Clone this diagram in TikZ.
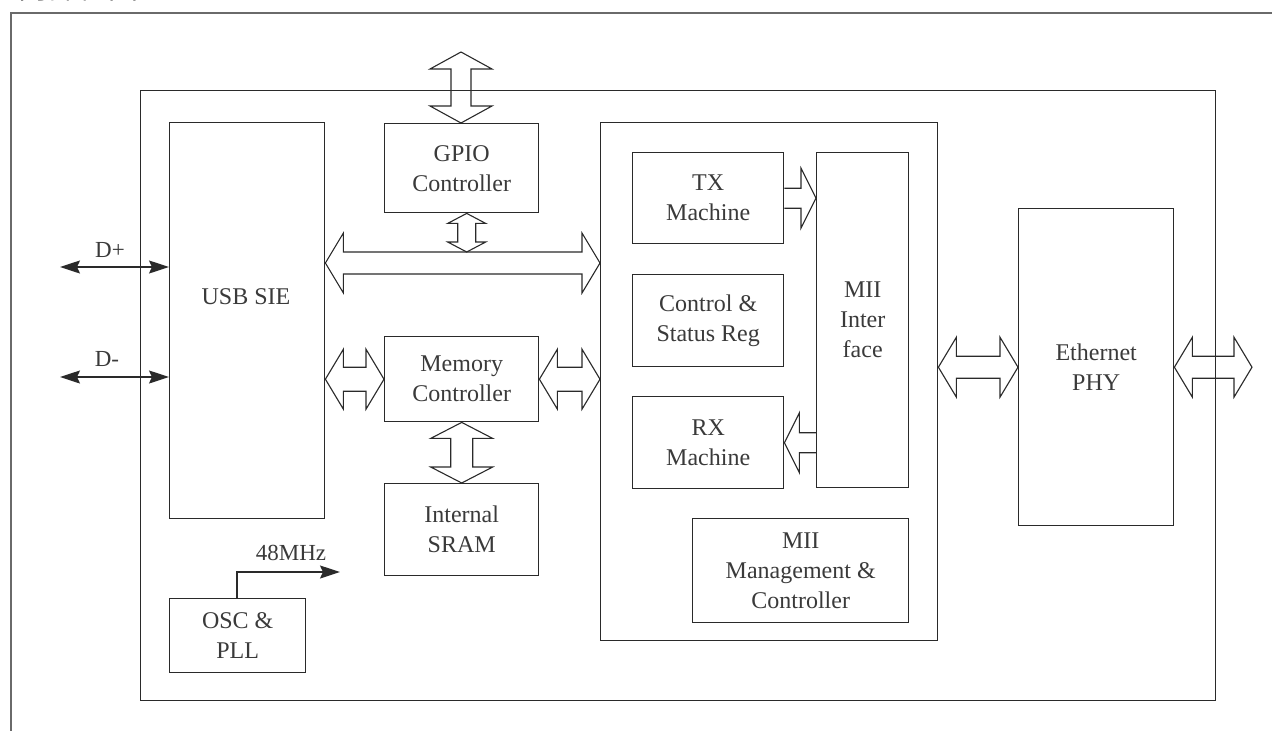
\documentclass[tikz,border=0pt]{standalone}
\usepackage{fontspec}
\setmainfont{Liberation Serif}
\newfontfamily\cjk{Noto Sans CJK SC}
\usetikzlibrary{arrows.meta,calc}
\definecolor{linec}{HTML}{2A2A2A}
\definecolor{txtc}{HTML}{3A3A3A}
\definecolor{framec}{HTML}{6A6A6A}
\tikzset{
  box/.style={draw=linec, line width=1.4pt, inner sep=0pt, anchor=north west},
  lbl/.style={text=txtc, font=\fontsize{24}{30}\selectfont, align=center, inner sep=0pt},
  dbl/.style={draw=linec, line width=1.1pt, line join=miter},
  sig/.style={draw=linec, line width=1.4pt, -{Stealth[length=20pt,width=13pt,inset=3pt]}},
  sigb/.style={draw=linec, line width=1.4pt, {Stealth[length=20pt,width=13pt,inset=3pt]}-{Stealth[length=20pt,width=13pt,inset=3pt]}},
}
% horizontal double arrow: #1 left tip, #2 right tip (x only), #3 shaft half, #4 head half, #5 head length
\newcommand\hdarr[5]{%
  \draw[dbl] let \p1=(#1), \p2=(#2) in
    (\x1,\y1) -- ({\x1+#5pt},{\y1+#4pt}) -- ({\x1+#5pt},{\y1+#3pt}) -- ({\x2-#5pt},{\y1+#3pt})
    -- ({\x2-#5pt},{\y1+#4pt}) -- (\x2,\y1) -- ({\x2-#5pt},{\y1-#4pt}) -- ({\x2-#5pt},{\y1-#3pt})
    -- ({\x1+#5pt},{\y1-#3pt}) -- ({\x1+#5pt},{\y1-#4pt}) -- cycle;}
% vertical double arrow: #1 top tip, #2 bottom tip (y only)
\newcommand\vdarr[5]{%
  \draw[dbl] let \p1=(#1), \p2=(#2) in
    (\x1,\y1) -- ({\x1+#4pt},{\y1-#5pt}) -- ({\x1+#3pt},{\y1-#5pt}) -- ({\x1+#3pt},{\y2+#5pt})
    -- ({\x1+#4pt},{\y2+#5pt}) -- (\x1,\y2) -- ({\x1-#4pt},{\y2+#5pt}) -- ({\x1-#3pt},{\y2+#5pt})
    -- ({\x1-#3pt},{\y1-#5pt}) -- ({\x1-#4pt},{\y1-#5pt}) -- cycle;}
% single horizontal arrow: #1 tail, #2 tip (x only); #5 signed head length
\newcommand\sarr[5]{%
  \draw[dbl] let \p1=(#1), \p2=(#2) in
    (\x1,{\y1+#3pt}) -- ({\x2-(#5pt)},{\y1+#3pt}) -- ({\x2-(#5pt)},{\y1+#4pt}) -- (\x2,\y1)
    -- ({\x2-(#5pt)},{\y1-#4pt}) -- ({\x2-(#5pt)},{\y1-#3pt}) -- (\x1,{\y1-#3pt});}
\begin{document}
\begin{tikzpicture}[x=1pt,y=-1pt]
\useasboundingbox (0,0) rectangle (1272,731);
% partial title and outer frame
\node[anchor=base west, inner sep=0pt, font=\cjk\fontsize{30}{30}\selectfont, text=black] (title) at (18,-2) {内部框图};
\draw[framec, line width=2pt] (11,740) -- (11,13) -- (1280,13);
% main chip box
\node[box, minimum width=1075, minimum height=610] (chip) at (140,90) {};
% left blocks
\node[box, minimum width=155, minimum height=396] (usb) at (169,122) {};
\node[lbl] (usbtxt) at (246,297) {USB SIE};
\node[box, minimum width=154, minimum height=89] (gpio) at (384,123) {};
\node[lbl] at (gpio.center) {GPIO\\Controller};
\node[box, minimum width=154, minimum height=85] (mem) at (384,336) {};
\node[lbl] at (mem.center) {Memory\\Controller};
\node[box, minimum width=154, minimum height=92] (sram) at (384,483) {};
\node[lbl] at (sram.center) {Internal\\SRAM};
\node[box, minimum width=136, minimum height=74] (osc) at (169,598) {};
\node[lbl] at (osc.center) {OSC \&\\PLL};
% MAC block
\node[box, minimum width=337, minimum height=518] (mac) at (600,122) {};
\node[box, minimum width=151, minimum height=91] (tx) at (632,152) {};
\node[lbl] at (tx.center) {TX\\Machine};
\node[box, minimum width=151, minimum height=92] (csr) at (632,274) {};
\node[lbl] at (csr.center) {Control \&\\Status Reg};
\node[box, minimum width=151, minimum height=92] (rx) at (632,396) {};
\node[lbl] at (rx.center) {RX\\Machine};
\node[box, minimum width=92, minimum height=335] (mii) at (816,152) {};
\node[lbl] at (mii.center) {MII\\Inter\\face};
\node[box, minimum width=216, minimum height=104] (mgmt) at (692,518) {};
\node[lbl] at (mgmt.center) {MII\\Management \&\\Controller};
% PHY
\node[box, minimum width=155, minimum height=317] (eth) at (1018,208) {};
\node[lbl] at (eth.center) {Ethernet\\PHY};
% free ends
\coordinate (gpiotop) at (461,52);
\coordinate (busy) at (0,263);
\coordinate (bustop) at (0,252);
\coordinate (dp) at (60,267);
\coordinate (dm) at (60,377);
\coordinate (ethout) at (1252,366);
\coordinate (clkbend) at (237,572);
\coordinate (clkend) at (340,572);
% wide arrows
\vdarr{gpiotop}{gpio.north}{10}{31}{17}
\vdarr{[xshift=5pt]gpio.south}{[xshift=5pt]gpio.south |- bustop}{9}{19}{10}
\hdarr{usb.east |- busy}{mac.west |- busy}{11}{30}{18}
\hdarr{usb.east |- mem.west}{mem.west}{12}{30}{18}
\hdarr{mem.east}{mac.west |- mem.east}{12}{30}{18}
\vdarr{mem.south}{sram.north}{11}{31}{16}
\sarr{tx.east}{mii.west |- tx.east}{10}{30}{15}
\sarr{mii.west |- rx.east}{rx.east}{10}{30}{-15}
\hdarr{mac.east |- eth.west}{eth.west}{11}{30}{18}
\hdarr{eth.east}{ethout}{11}{30}{18}
% signals
\draw[sigb] (dp) -- (usb.west |- dp);
\draw[sigb] (dm) -- (usb.west |- dm);
\node[lbl, font=\fontsize{23}{28}\selectfont] (dplbl) at (110,250) {D+};
\node[lbl, font=\fontsize{23}{28}\selectfont] (dmlbl) at (107,359) {D-};
\draw[sig] (osc.north -| clkbend) -- (clkbend) -- (clkend);
\node[lbl, font=\fontsize{23}{28}\selectfont] (clklbl) at (291,553) {48MHz};
\end{tikzpicture}
\end{document}
